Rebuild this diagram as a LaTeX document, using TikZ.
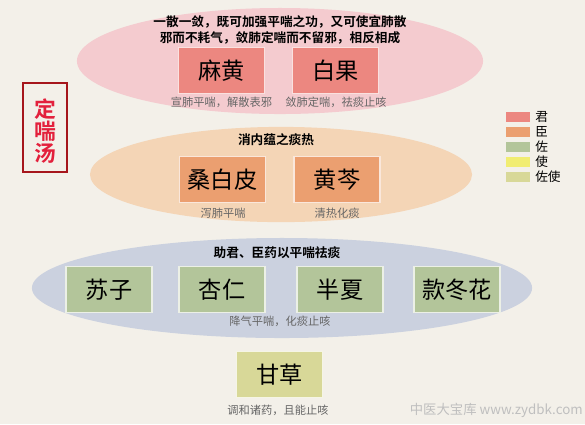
\documentclass[tikz,border=0pt]{standalone}
\usepackage{fontspec}
\usepackage{xcolor}
\usepackage{tikz}
\setmainfont{Liberation Sans}
\newfontfamily\cjk{Noto Sans CJK SC}
\newfontfamily\cjkbold{Noto Sans CJK SC Bold}

\definecolor{paper}{HTML}{F3F0E9}
\definecolor{junbg}{HTML}{F4CBCF}
\definecolor{chenbg}{HTML}{F4D5B6}
\definecolor{zuobg}{HTML}{CBD1DF}
\definecolor{jun}{HTML}{EC8780}
\definecolor{chen}{HTML}{EB9F70}
\definecolor{zuo}{HTML}{B3C59A}
\definecolor{shi}{HTML}{F1ED72}
\definecolor{zuoshi}{HTML}{D8D898}
\definecolor{sealred}{HTML}{A6161C}
\definecolor{namered}{HTML}{E3203C}

\tikzset{
  herb/.style={draw=white!75!#1, line width=0.8pt, fill=#1, minimum width=2.15cm,
    minimum height=1.15cm, inner sep=0pt, font=\cjk\fontsize{16.5}{18}\selectfont},
  note/.style={inner sep=0pt, text=black!60, font=\cjk\fontsize{8}{10}\selectfont},
  head/.style={inner sep=0pt, align=center, font=\cjkbold\fontsize{9}{11.3}\selectfont},
  swatch/.style={fill=#1, minimum width=0.6cm, minimum height=0.25cm, inner sep=0pt},
}

\begin{document}
\begin{tikzpicture}[x=0.025cm, y=-0.025cm]

\fill[paper] (0,0) rectangle (585,424);
\useasboundingbox (0,0) rectangle (585,424);

\fill[junbg] (280,61) ellipse (5.075cm and 1.325cm);% top
\fill[chenbg] (281,174.5) ellipse (4.775cm and 1.19cm);% middle
\fill[zuobg] (282,288) ellipse (6.25cm and 1.25cm);% bottom

% title seal
\draw[sealred, line width=1.4pt] (23,83) rectangle (67,172);
\node[text=namered, align=center, font=\cjkbold\fontsize{15.5}{15.5}\selectfont] (fangming) at (45,131) {定\\喘\\汤};

% jun
\node[head] (junhead) at (280,30) {一散一敛，既可加强平喘之功，又可使宜肺散\\邪而不耗气，敛肺定喘而不留邪，相反相成};
\node[herb=jun] (mahuang) at (221.5,70.5) {麻黄};
\node[herb=jun] (baiguo) at (335.5,70.5) {白果};
\node[note] (mahuangnote) at (221.5,102) {宣肺平喘，解散表邪};
\node[note] (baiguonote) at (336,102) {敛肺定喘，祛痰止咳};

% chen
\node[head] (chenhead) at (276,140) {消内蕴之痰热};
\node[herb=chen] (sangbaipi) at (222.5,179.5) {桑白皮};
\node[herb=chen] (huangqin) at (337,179.5) {黄芩};
\node[note] (sangbaipinote) at (223,213) {泻肺平喘};
\node[note] (huangqinnote) at (337,213) {清热化痰};

% zuo
\node[head] (zuohead) at (277,253) {助君、臣药以平喘祛痰};
\node[herb=zuo] (suzi) at (109,289.5) {苏子};
\node[herb=zuo] (xingren) at (222,289.5) {杏仁};
\node[herb=zuo] (banxia) at (340,289.5) {半夏};
\node[herb=zuo] (kuandonghua) at (457,289.5) {款冬花};
\node[note] (zuonote) at (280,321) {降气平喘，化痰止咳};

% zuoshi
\node[herb=zuoshi] (gancao) at (279.5,374.5) {甘草};
\node[note] (gancaonote) at (278,410) {调和诸药，且能止咳};

% legend
\foreach \c/\t [count=\i] in {jun/君, chen/臣, zuo/佐, shi/使, zuoshi/佐使} {
  \node[swatch=\c] (leg\i) at (518,102+15*\i) {};
  \node[anchor=west, inner sep=0pt, font=\cjk\fontsize{9}{10}\selectfont] (legtext\i) at (535,102+15*\i) {\t};
}

\node[anchor=east, inner sep=0pt, text=black!25, font=\cjk\fontsize{9.5}{11}\selectfont] (mark) at (583,410) {中医大宝库 www.zydbk.com};

\end{tikzpicture}
\end{document}
